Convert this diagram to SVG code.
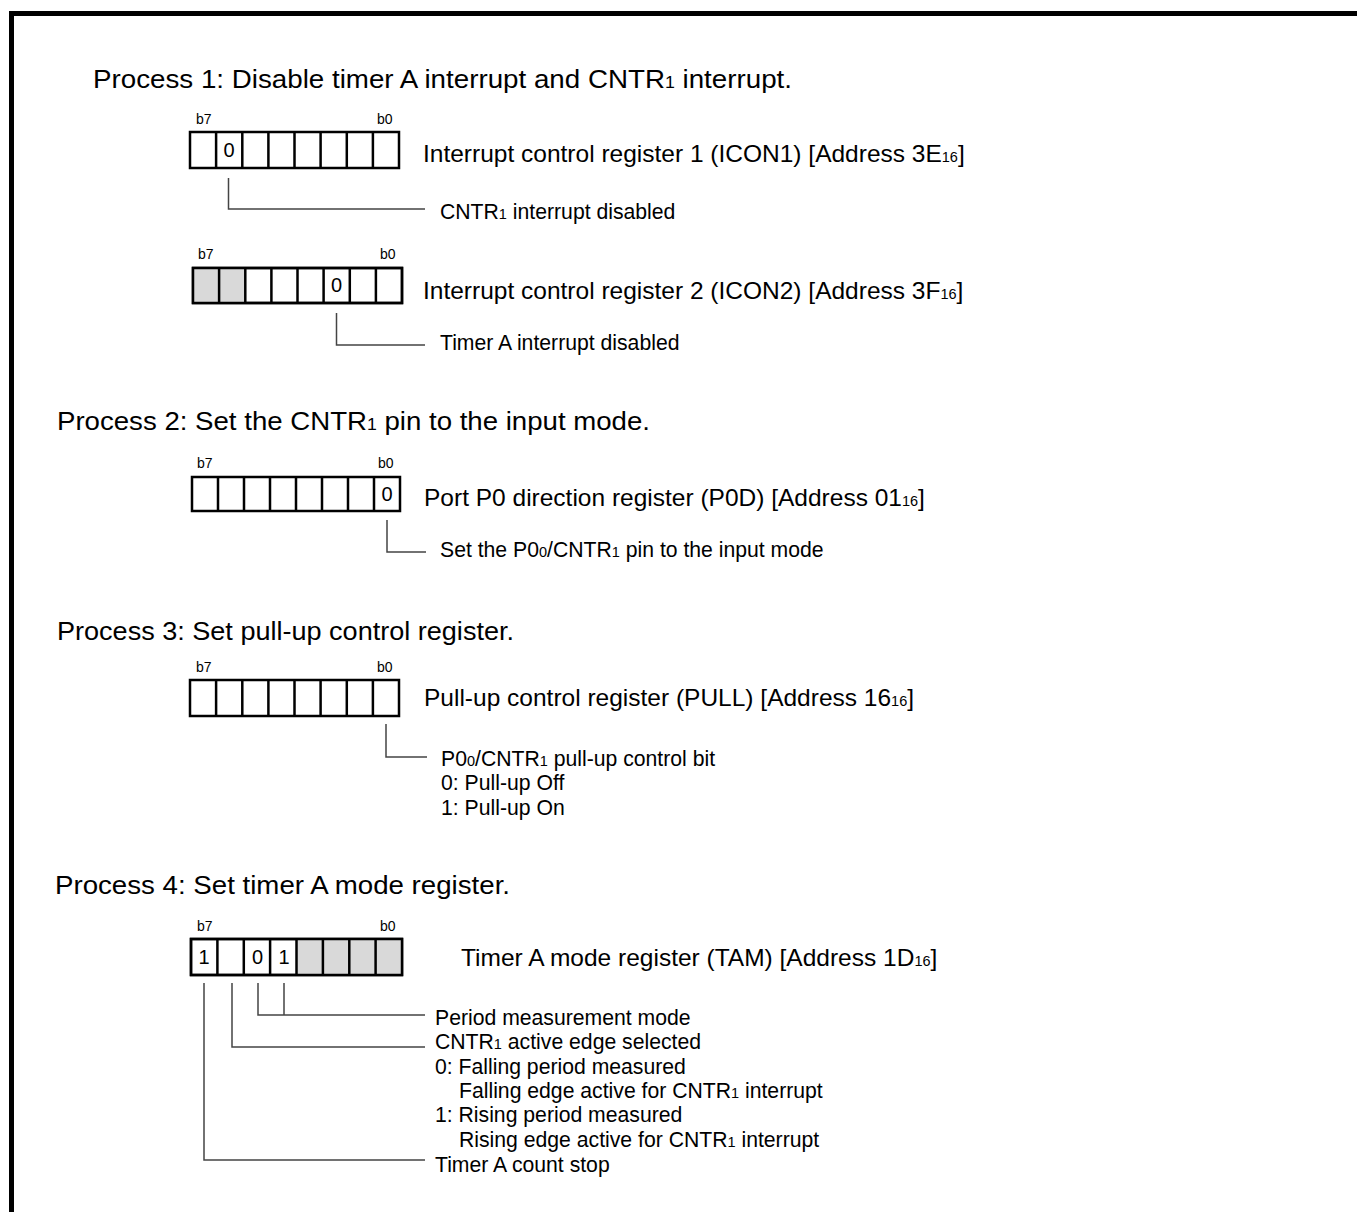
<svg xmlns="http://www.w3.org/2000/svg" width="1357" height="1212" viewBox="0 0 1357 1212">
<style>
text{font-family:"Liberation Sans",Arial,sans-serif;fill:#000}
.title{font-size:25px}
.reg{font-size:24.5px}
.desc{font-size:21.2px}
.bit{font-size:14px}
.val{font-size:20px;text-anchor:middle}
.sub{font-size:16px}
.subs{font-size:14.5px}
.box{fill:#fff;stroke:#000;stroke-width:2.5}
.frame{fill:none;stroke:#000;stroke-width:2.5}
.gray{fill:#d9d9d9}
.cell{stroke:#000;stroke-width:2.5;fill:none}
.lead{fill:none;stroke:#444;stroke-width:1.5}
</style>
<rect width="1357" height="1212" fill="#fff"/>
<path d="M11.5,1212 V13.5 H1357" fill="none" stroke="#000" stroke-width="5"/>

<text class="title" x="93" y="88" textLength="699" lengthAdjust="spacingAndGlyphs">Process 1: Disable timer A interrupt and CNTR<tspan class="sub">1</tspan> interrupt.</text>
<text class="title" x="57" y="430" textLength="593" lengthAdjust="spacingAndGlyphs">Process 2: Set the CNTR<tspan class="sub">1</tspan> pin to the input mode.</text>
<text class="title" x="57" y="640" textLength="457" lengthAdjust="spacingAndGlyphs">Process 3: Set pull-up control register.</text>
<text class="title" x="55" y="894" textLength="455" lengthAdjust="spacingAndGlyphs">Process 4: Set timer A mode register.</text>

<g id="icon1">
<rect class="box" x="190" y="132" width="209" height="36"/>
<path class="cell" d="M216.1,132V168M242.3,132V168M268.4,132V168M294.5,132V168M320.6,132V168M346.8,132V168M372.9,132V168"/>
<text class="val" x="229" y="157">0</text>
<text class="bit" x="196" y="124">b7</text>
<text class="bit" x="377" y="124">b0</text>
<text class="reg" x="423" y="162">Interrupt control register 1 (ICON1) [Address 3E<tspan class="subs">16</tspan>]</text>
<text class="desc" x="440" y="219">CNTR<tspan class="subs">1</tspan> interrupt disabled</text>
</g>

<g id="icon2">
<rect class="box" x="193" y="268" width="209" height="35"/>
<rect class="gray" x="193" y="268" width="52.2" height="35"/>
<rect class="frame" x="193" y="268" width="209" height="35"/>
<path class="cell" d="M219.1,268V303M245.3,268V303M271.4,268V303M297.5,268V303M323.6,268V303M349.8,268V303M375.9,268V303"/>
<text class="val" x="336.5" y="292">0</text>
<text class="bit" x="198" y="259">b7</text>
<text class="bit" x="380" y="259">b0</text>
<text class="reg" x="423" y="299">Interrupt control register 2 (ICON2) [Address 3F<tspan class="subs">16</tspan>]</text>
<text class="desc" x="440" y="350">Timer A interrupt disabled</text>
</g>

<g id="p0d">
<rect class="box" x="192" y="477" width="208" height="34"/>
<path class="cell" d="M218,477V511M244,477V511M270,477V511M296,477V511M322,477V511M348,477V511M374,477V511"/>
<text class="val" x="387" y="501">0</text>
<text class="bit" x="197" y="468">b7</text>
<text class="bit" x="378" y="468">b0</text>
<text class="reg" x="424" y="506">Port P0 direction register (P0D) [Address 01<tspan class="subs">16</tspan>]</text>
<text class="desc" x="440" y="557">Set the P0<tspan class="subs">0</tspan>/CNTR<tspan class="subs">1</tspan> pin to the input mode</text>
</g>

<g id="pull">
<rect class="box" x="190" y="680" width="209" height="36"/>
<path class="cell" d="M216.1,680V716M242.3,680V716M268.4,680V716M294.5,680V716M320.6,680V716M346.8,680V716M372.9,680V716"/>
<text class="bit" x="196" y="672">b7</text>
<text class="bit" x="377" y="672">b0</text>
<text class="reg" x="424" y="706">Pull-up control register (PULL) [Address 16<tspan class="subs">16</tspan>]</text>
<text class="desc" x="441" y="766">P0<tspan class="subs">0</tspan>/CNTR<tspan class="subs">1</tspan> pull-up control bit</text>
<text class="desc" x="441" y="790">0: Pull-up Off</text>
<text class="desc" x="441" y="815">1: Pull-up On</text>
</g>

<g id="tam">
<rect class="box" x="191" y="939" width="211" height="36"/>
<rect class="gray" x="296.5" y="939" width="105.5" height="36"/>
<rect class="frame" x="191" y="939" width="211" height="36"/>
<path class="cell" d="M217.4,939V975M243.8,939V975M270.1,939V975M296.5,939V975M322.9,939V975M349.3,939V975M375.6,939V975"/>
<text class="val" x="204" y="964">1</text>
<text class="val" x="257.5" y="964">0</text>
<text class="val" x="284" y="964">1</text>
<text class="bit" x="197" y="931">b7</text>
<text class="bit" x="380" y="931">b0</text>
<text class="reg" x="461" y="966">Timer A mode register (TAM) [Address 1D<tspan class="subs">16</tspan>]</text>
<text class="desc" x="435" y="1025">Period measurement mode</text>
<text class="desc" x="435" y="1049">CNTR<tspan class="subs">1</tspan> active edge selected</text>
<text class="desc" x="435" y="1074">0: Falling period measured</text>
<text class="desc" x="459" y="1098">Falling edge active for CNTR<tspan class="subs">1</tspan> interrupt</text>
<text class="desc" x="435" y="1122">1: Rising period measured</text>
<text class="desc" x="459" y="1147">Rising edge active for CNTR<tspan class="subs">1</tspan> interrupt</text>
<text class="desc" x="435" y="1172">Timer A count stop</text>
</g>

<g id="connectors">
<path class="lead" d="M228.5,178V209H425"/>
<path class="lead" d="M336.5,313V345H425"/>
<path class="lead" d="M387,520V552H426"/>
<path class="lead" d="M386,724V757H427"/>
<path class="lead" d="M284,983V1015M258,983V1015H425"/>
<path class="lead" d="M232,983V1047H425"/>
<path class="lead" d="M204,983V1160H425"/>
</g>
</svg>
